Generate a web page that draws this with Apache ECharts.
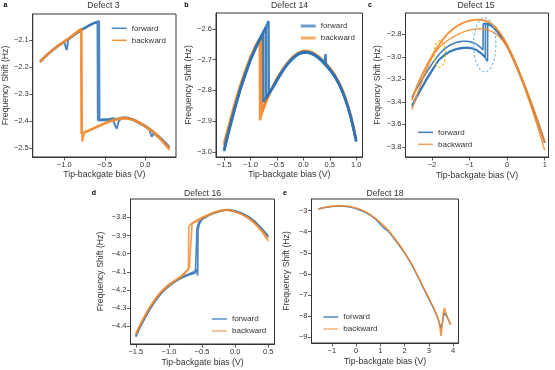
<!DOCTYPE html>
<html><head><meta charset="utf-8">
<script src="https://cdn.jsdelivr.net/npm/echarts@6/dist/echarts.min.js"></script>
<style>html,body{margin:0;padding:0;background:#fff}#c{width:555px;height:370px}</style>
</head><body><div id="c"></div>
<script>
// ---------- Panel a : Defect 3 ----------
const aTicksX = [-1.0, -0.5, 0.0];
const aTicksY = [-2.5, -2.4, -2.3, -2.2, -2.1];
const aFwd1 = [[-1.30,-2.183],[-1.25,-2.168],[-1.20,-2.153],[-1.15,-2.141],[-1.10,-2.129],[-1.05,-2.118],[-1.00,-2.108],[-0.98,-2.104],[-0.97,-2.138],[-0.96,-2.132],[-0.95,-2.099],[-0.90,-2.088],[-0.85,-2.077],[-0.80,-2.066],[-0.75,-2.057],[-0.70,-2.049],[-0.65,-2.041],[-0.62,-2.036],[-0.60,-2.034],[-0.59,-2.038],[-0.585,-2.397],[-0.55,-2.398],[-0.50,-2.396],[-0.45,-2.398],[-0.40,-2.394],[-0.37,-2.418],[-0.35,-2.428],[-0.33,-2.402],[-0.30,-2.391],[-0.25,-2.389],[-0.20,-2.391],[-0.15,-2.396],[-0.10,-2.404],[-0.05,-2.412],[0.00,-2.421],[0.05,-2.432],[0.08,-2.458],[0.10,-2.447],[0.15,-2.456],[0.20,-2.468],[0.25,-2.483],[0.30,-2.500]];
const aFwd2 = [[-1.30,-2.178],[-1.25,-2.165],[-1.20,-2.150],[-1.15,-2.137],[-1.10,-2.126],[-1.05,-2.115],[-1.00,-2.105],[-0.95,-2.096],[-0.90,-2.085],[-0.85,-2.074],[-0.80,-2.064],[-0.75,-2.055],[-0.70,-2.046],[-0.65,-2.039],[-0.60,-2.033],[-0.57,-2.030],[-0.565,-2.395],[-0.52,-2.393],[-0.45,-2.392],[-0.40,-2.390],[-0.35,-2.392],[-0.30,-2.388],[-0.25,-2.386],[-0.20,-2.389],[-0.15,-2.393],[-0.10,-2.401],[-0.05,-2.409],[0.00,-2.417],[0.05,-2.427],[0.10,-2.440],[0.15,-2.452],[0.20,-2.465],[0.25,-2.480],[0.30,-2.496]];
const aBwd1 = [[0.30,-2.507],[0.25,-2.490],[0.20,-2.472],[0.15,-2.457],[0.10,-2.443],[0.05,-2.431],[0.00,-2.421],[-0.05,-2.411],[-0.10,-2.403],[-0.15,-2.397],[-0.20,-2.393],[-0.25,-2.391],[-0.30,-2.392],[-0.35,-2.395],[-0.40,-2.399],[-0.45,-2.404],[-0.50,-2.410],[-0.55,-2.417],[-0.60,-2.423],[-0.65,-2.430],[-0.70,-2.437],[-0.75,-2.443],[-0.77,-2.447],[-0.78,-2.476],[-0.785,-2.060],[-0.80,-2.063],[-0.85,-2.074],[-0.90,-2.086],[-0.95,-2.097],[-1.00,-2.107],[-1.05,-2.117],[-1.10,-2.128],[-1.15,-2.140],[-1.20,-2.153],[-1.25,-2.167],[-1.30,-2.183]];
const aBwd2 = [[0.30,-2.500],[0.25,-2.485],[0.20,-2.468],[0.15,-2.452],[0.10,-2.439],[0.05,-2.428],[0.00,-2.418],[-0.05,-2.408],[-0.10,-2.400],[-0.15,-2.394],[-0.20,-2.390],[-0.25,-2.388],[-0.30,-2.389],[-0.35,-2.392],[-0.40,-2.396],[-0.45,-2.401],[-0.50,-2.407],[-0.55,-2.413],[-0.60,-2.420],[-0.65,-2.427],[-0.70,-2.434],[-0.75,-2.440],[-0.79,-2.446],[-0.795,-2.058],[-0.85,-2.071],[-0.90,-2.083],[-0.95,-2.094],[-1.00,-2.104],[-1.05,-2.114],[-1.10,-2.125],[-1.15,-2.137],[-1.20,-2.150],[-1.25,-2.164],[-1.30,-2.180]];

// ---------- Panel b : Defect 14 ----------
const bTicksX = [-1.5, -1.0, -0.5, 0.0, 0.5, 1.0];
const bTicksY = [-3.0, -2.9, -2.8, -2.7, -2.6];
const bFwd1 = [[-1.50,-2.995],[-1.45,-2.958],[-1.40,-2.925],[-1.35,-2.892],[-1.30,-2.860],[-1.25,-2.830],[-1.20,-2.800],[-1.15,-2.773],[-1.10,-2.748],[-1.05,-2.723],[-1.00,-2.700],[-0.95,-2.680],[-0.90,-2.661],[-0.85,-2.643],[-0.80,-2.627],[-0.76,-2.614],[-0.755,-2.838],[-0.72,-2.828],[-0.68,-2.816],[-0.64,-2.805],[-0.60,-2.795],[-0.55,-2.780],[-0.50,-2.765],[-0.45,-2.750],[-0.40,-2.737],[-0.35,-2.724],[-0.30,-2.713],[-0.25,-2.703],[-0.20,-2.694],[-0.15,-2.687],[-0.10,-2.681],[-0.05,-2.677],[0.00,-2.675],[0.05,-2.674],[0.10,-2.676],[0.15,-2.678],[0.20,-2.682],[0.25,-2.688],[0.30,-2.694],[0.35,-2.702],[0.40,-2.711],[0.42,-2.682],[0.43,-2.716],[0.45,-2.720],[0.50,-2.730],[0.55,-2.741],[0.60,-2.754],[0.65,-2.769],[0.70,-2.786],[0.75,-2.806],[0.80,-2.829],[0.85,-2.855],[0.90,-2.886],[0.95,-2.921],[1.00,-2.963]];
const bFwd2 = [[-1.50,-2.990],[-1.45,-2.954],[-1.40,-2.921],[-1.35,-2.889],[-1.30,-2.857],[-1.25,-2.827],[-1.20,-2.797],[-1.15,-2.770],[-1.10,-2.745],[-1.05,-2.721],[-1.00,-2.698],[-0.95,-2.678],[-0.90,-2.658],[-0.85,-2.640],[-0.80,-2.623],[-0.75,-2.607],[-0.70,-2.591],[-0.66,-2.574],[-0.655,-2.812],[-0.62,-2.803],[-0.58,-2.792],[-0.55,-2.784],[-0.50,-2.769],[-0.45,-2.754],[-0.40,-2.740],[-0.35,-2.727],[-0.30,-2.716],[-0.25,-2.706],[-0.20,-2.697],[-0.15,-2.690],[-0.10,-2.684],[-0.05,-2.680],[0.00,-2.678],[0.05,-2.677],[0.10,-2.678],[0.15,-2.681],[0.20,-2.685],[0.25,-2.690],[0.30,-2.697],[0.35,-2.705],[0.40,-2.714],[0.45,-2.724],[0.50,-2.734],[0.55,-2.745],[0.60,-2.758],[0.65,-2.773],[0.70,-2.790],[0.75,-2.810],[0.80,-2.833],[0.85,-2.859],[0.90,-2.890],[0.95,-2.925],[1.00,-2.967]];
const bFwd3 = [[-1.5,-2.998],[-1.4,-2.928],[-1.3,-2.862],[-1.2,-2.802],[-1.1,-2.750],[-1.0,-2.702],[-0.9,-2.662],[-0.8,-2.626],[-0.71,-2.594],[-0.705,-2.826],[-0.6,-2.797],[-0.5,-2.767],[-0.4,-2.738],[-0.3,-2.714],[-0.2,-2.695],[-0.1,-2.682],[0.0,-2.676],[0.1,-2.677],[0.2,-2.684],[0.3,-2.696],[0.4,-2.713],[0.5,-2.732],[0.6,-2.756],[0.7,-2.788],[0.8,-2.831],[0.9,-2.888],[1.0,-2.965]];
const bBwd1 = [[1.00,-2.960],[0.95,-2.918],[0.90,-2.883],[0.85,-2.852],[0.80,-2.826],[0.75,-2.803],[0.70,-2.783],[0.65,-2.766],[0.60,-2.751],[0.55,-2.738],[0.50,-2.727],[0.45,-2.717],[0.40,-2.708],[0.35,-2.699],[0.30,-2.691],[0.25,-2.685],[0.20,-2.679],[0.15,-2.675],[0.10,-2.673],[0.05,-2.671],[0.00,-2.672],[-0.05,-2.674],[-0.10,-2.678],[-0.15,-2.684],[-0.20,-2.691],[-0.25,-2.700],[-0.30,-2.710],[-0.35,-2.721],[-0.40,-2.734],[-0.45,-2.747],[-0.50,-2.762],[-0.55,-2.777],[-0.60,-2.794],[-0.65,-2.812],[-0.70,-2.832],[-0.75,-2.855],[-0.80,-2.882],[-0.82,-2.897],[-0.825,-2.632],[-0.85,-2.640],[-0.90,-2.656],[-0.95,-2.674],[-1.00,-2.694],[-1.05,-2.716],[-1.10,-2.740],[-1.15,-2.765],[-1.20,-2.791],[-1.25,-2.819],[-1.30,-2.848],[-1.35,-2.879],[-1.40,-2.911],[-1.45,-2.944],[-1.50,-2.978]];
const bBwd2 = [[1.0,-2.964],[0.9,-2.887],[0.8,-2.829],[0.7,-2.786],[0.6,-2.754],[0.5,-2.730],[0.4,-2.711],[0.3,-2.694],[0.2,-2.682],[0.1,-2.675],[0.0,-2.674],[-0.1,-2.680],[-0.2,-2.693],[-0.3,-2.712],[-0.4,-2.736],[-0.5,-2.764],[-0.6,-2.796],[-0.7,-2.834],[-0.78,-2.868],[-0.785,-2.619],[-0.8,-2.624],[-0.9,-2.653],[-1.0,-2.690],[-1.1,-2.736],[-1.2,-2.787],[-1.3,-2.844],[-1.4,-2.907],[-1.5,-2.972]];

// ---------- Panel c : Defect 15 ----------
const cTicksX = [-2, -1, 0, 1];
const cTicksY = [-3.8, -3.6, -3.4, -3.2, -3.0, -2.8];
const cFwd1 = [[-2.53,-3.36],[-2.4,-3.28],[-2.25,-3.195],[-2.1,-3.115],[-1.95,-3.04],[-1.8,-2.975],[-1.65,-2.925],[-1.5,-2.893],[-1.35,-2.872],[-1.2,-2.862],[-1.05,-2.862],[-0.9,-2.874],[-0.8,-2.892],[-0.7,-2.918],[-0.64,-2.94],[-0.635,-2.705],[-0.5,-2.705],[-0.4,-2.728],[-0.3,-2.76],[-0.2,-2.80],[-0.1,-2.85],[0.0,-2.905],[0.1,-2.97],[0.2,-3.045],[0.3,-3.122],[0.4,-3.205],[0.5,-3.29],[0.6,-3.378],[0.7,-3.468],[0.8,-3.563],[0.9,-3.66],[1.0,-3.758]];
const cFwd2 = [[-2.53,-3.445],[-2.4,-3.36],[-2.25,-3.27],[-2.1,-3.185],[-1.95,-3.105],[-1.83,-3.033],[-1.65,-2.985],[-1.5,-2.952],[-1.35,-2.935],[-1.2,-2.925],[-1.05,-2.922],[-0.9,-2.93],[-0.8,-2.945],[-0.7,-2.968],[-0.6,-3.0],[-0.52,-3.04],[-0.515,-2.71],[-0.4,-2.73],[-0.3,-2.762],[-0.2,-2.803],[-0.1,-2.853],[0.0,-2.908],[0.1,-2.973],[0.2,-3.048],[0.3,-3.125],[0.4,-3.208],[0.5,-3.293],[0.6,-3.381],[0.7,-3.471],[0.8,-3.566],[0.9,-3.663],[1.0,-3.762]];
const cFwd3 = [[-2.53,-3.43],[-2.4,-3.345],[-2.25,-3.255],[-2.1,-3.17],[-1.95,-3.093],[-1.8,-3.02],[-1.65,-2.975],[-1.5,-2.945],[-1.35,-2.928],[-1.2,-2.918],[-1.05,-2.916],[-0.9,-2.924],[-0.8,-2.94],[-0.7,-2.962],[-0.58,-3.0],[-0.575,-2.708],[-0.5,-2.708],[-0.4,-2.729],[-0.2,-2.802],[0.0,-2.906],[0.2,-3.046],[0.4,-3.206],[0.6,-3.38],[0.8,-3.565],[1.0,-3.76]];
const cBwd1 = [[1.0,-3.76],[0.9,-3.655],[0.8,-3.558],[0.7,-3.462],[0.6,-3.37],[0.5,-3.283],[0.4,-3.197],[0.3,-3.113],[0.2,-3.035],[0.1,-2.96],[0.0,-2.893],[-0.1,-2.833],[-0.2,-2.782],[-0.3,-2.74],[-0.4,-2.71],[-0.5,-2.69],[-0.6,-2.678],[-0.7,-2.672],[-0.8,-2.671],[-0.9,-2.673],[-1.0,-2.68],[-1.1,-2.69],[-1.2,-2.703],[-1.3,-2.72],[-1.4,-2.742],[-1.5,-2.77],[-1.6,-2.803],[-1.7,-2.843],[-1.8,-2.888],[-1.9,-2.94],[-2.0,-2.995],[-2.1,-3.055],[-2.2,-3.12],[-2.3,-3.19],[-2.4,-3.265],[-2.53,-3.385]];
const cBwd2 = [[1.0,-3.83],[0.9,-3.72],[0.8,-3.61],[0.7,-3.505],[0.6,-3.405],[0.5,-3.31],[0.4,-3.22],[0.3,-3.135],[0.2,-3.055],[0.1,-2.98],[0.0,-2.912],[-0.1,-2.862],[-0.2,-2.825],[-0.3,-2.797],[-0.4,-2.776],[-0.5,-2.762],[-0.6,-2.754],[-0.7,-2.751],[-0.8,-2.752],[-0.9,-2.756],[-1.0,-2.763],[-1.1,-2.772],[-1.2,-2.784],[-1.3,-2.8],[-1.4,-2.818],[-1.5,-2.838],[-1.6,-2.86],[-1.7,-2.885],[-1.8,-2.915],[-1.9,-2.955],[-2.0,-3.01],[-2.1,-3.08],[-2.2,-3.16],[-2.3,-3.25],[-2.4,-3.345],[-2.53,-3.47]];
// dashed ellipse annotations: [centre x, centre y, half-width, half-height]
const cEllipseYellow = [[-1.79, -2.975, 0.15, 0.118]];
const cEllipseBlue = [[-0.594, -2.893, 0.297, 0.241]];

// ---------- Panel d : Defect 16 ----------
const dTicksX = [-1.5, -1.0, -0.5, 0.0, 0.5];
const dTicksY = [-4.5, -4.4, -4.3, -4.2, -4.1, -4.0, -3.9, -3.8];
const dFwd1 = [[-1.50,-4.458],[-1.45,-4.415],[-1.40,-4.380],[-1.35,-4.348],[-1.30,-4.315],[-1.25,-4.285],[-1.20,-4.258],[-1.15,-4.234],[-1.10,-4.213],[-1.05,-4.195],[-1.00,-4.180],[-0.95,-4.166],[-0.90,-4.153],[-0.85,-4.142],[-0.80,-4.132],[-0.75,-4.124],[-0.70,-4.117],[-0.65,-4.111],[-0.60,-4.106],[-0.58,-4.100],[-0.575,-3.860],[-0.55,-3.828],[-0.50,-3.807],[-0.45,-3.795],[-0.40,-3.786],[-0.35,-3.778],[-0.30,-3.772],[-0.25,-3.767],[-0.20,-3.762],[-0.15,-3.760],[-0.10,-3.761],[-0.05,-3.764],[0.00,-3.768],[0.05,-3.774],[0.10,-3.780],[0.15,-3.788],[0.20,-3.798],[0.25,-3.811],[0.30,-3.827],[0.35,-3.845],[0.40,-3.864],[0.45,-3.885],[0.50,-3.908]];
const dFwd2 = [[-1.50,-4.452],[-1.40,-4.374],[-1.30,-4.310],[-1.20,-4.253],[-1.10,-4.208],[-1.00,-4.176],[-0.90,-4.149],[-0.80,-4.128],[-0.70,-4.112],[-0.62,-4.100],[-0.58,-4.088],[-0.565,-4.120],[-0.56,-3.870],[-0.54,-3.835],[-0.50,-3.812],[-0.40,-3.790],[-0.30,-3.775],[-0.20,-3.765],[-0.10,-3.757],[0.00,-3.764],[0.10,-3.776],[0.20,-3.795],[0.30,-3.822],[0.40,-3.860],[0.50,-3.902]];
const dBwd1 = [[0.50,-3.918],[0.45,-3.893],[0.40,-3.870],[0.35,-3.850],[0.30,-3.832],[0.25,-3.816],[0.20,-3.802],[0.15,-3.791],[0.10,-3.782],[0.05,-3.775],[0.00,-3.769],[-0.05,-3.765],[-0.10,-3.762],[-0.15,-3.762],[-0.20,-3.764],[-0.25,-3.768],[-0.30,-3.774],[-0.35,-3.780],[-0.40,-3.788],[-0.45,-3.797],[-0.50,-3.806],[-0.55,-3.816],[-0.60,-3.825],[-0.65,-3.834],[-0.68,-3.842],[-0.69,-4.075],[-0.72,-4.092],[-0.75,-4.105],[-0.80,-4.123],[-0.85,-4.137],[-0.90,-4.149],[-0.95,-4.161],[-1.00,-4.174],[-1.05,-4.189],[-1.10,-4.206],[-1.15,-4.226],[-1.20,-4.249],[-1.25,-4.275],[-1.30,-4.304],[-1.35,-4.336],[-1.40,-4.369],[-1.45,-4.405],[-1.50,-4.447]];
const dBwd2 = [[0.5,-3.930],[0.4,-3.876],[0.3,-3.836],[0.2,-3.805],[0.1,-3.784],[0.0,-3.770],[-0.1,-3.758],[-0.2,-3.760],[-0.3,-3.770],[-0.4,-3.784],[-0.5,-3.800],[-0.6,-3.820],[-0.66,-3.835],[-0.70,-3.850],[-0.705,-4.085],[-0.75,-4.100],[-0.8,-4.118],[-0.9,-4.144],[-1.0,-4.168],[-1.1,-4.200],[-1.2,-4.244],[-1.3,-4.300],[-1.4,-4.364],[-1.5,-4.440]];

// ---------- Panel e : Defect 18 ----------
const eTicksX = [-1, 0, 1, 2, 3, 4];
const eTicksY = [-9, -8, -7, -6, -5, -4, -3];
const eFwd = [[-1.55,-2.92],[-1.3,-2.85],[-1.0,-2.80],[-0.7,-2.78],[-0.4,-2.80],[-0.2,-2.84],[0.0,-2.90],[0.2,-2.99],[0.4,-3.09],[0.6,-3.23],[0.8,-3.41],[1.0,-3.64],[1.1,-3.76],[1.2,-3.88],[1.27,-3.97],[1.3,-3.95],[1.22,-3.85],[1.28,-3.90],[1.4,-4.08],[1.6,-4.38],[1.8,-4.69],[2.0,-5.02],[2.2,-5.38],[2.4,-5.80],[2.6,-6.27],[2.8,-6.74],[3.0,-7.20],[3.2,-7.66],[3.35,-8.05],[3.45,-8.40],[3.5,-8.60],[3.56,-8.30],[3.63,-7.85],[3.67,-7.80],[3.72,-8.00],[3.78,-8.12],[3.83,-8.20],[3.88,-8.38]];
const eBwd = [[3.9,-8.42],[3.83,-8.25],[3.76,-8.05],[3.7,-7.85],[3.64,-7.62],[3.6,-7.80],[3.55,-8.40],[3.5,-8.95],[3.45,-8.50],[3.4,-8.20],[3.3,-7.90],[3.2,-7.62],[3.0,-7.15],[2.8,-6.70],[2.6,-6.23],[2.4,-5.77],[2.2,-5.35],[2.0,-4.98],[1.8,-4.64],[1.6,-4.33],[1.4,-4.03],[1.2,-3.78],[1.0,-3.56],[0.8,-3.36],[0.6,-3.20],[0.4,-3.06],[0.2,-2.95],[0.0,-2.87],[-0.2,-2.81],[-0.4,-2.78],[-0.7,-2.765],[-1.0,-2.785],[-1.3,-2.845],[-1.55,-2.91]];

const titles = ['Defect 3', 'Defect 14', 'Defect 15', 'Defect 16', 'Defect 18'];
const letters = ['a', 'b', 'c', 'd', 'e'];
const xName = 'Tip-backgate bias (V)';
const yName = 'Frequency Shift (Hz)';

const FONT = '"Liberation Sans", Arial, sans-serif';
const TXT = '#333';
const BLUE = '#2f73b5', ORANGE = '#f5882a';

const layout = [
  {grid:{left:31, top:14, width:145, height:143}, x:[-1.39,0.38], y:[-2.533,-2.004], xt:aTicksX, yt:aTicksY, xd:1, yd:1, yGap:19.5, xGap:13.5,
   title:[103.5,6], letter:[5.5,5], legend:{left:111.7, top:22.8, h:1.5, fc:'#4a8bc6', bc:'#f39436'}},
  {grid:{left:216, top:13, width:146.5, height:144}, x:[-1.655,1.12], y:[-3.017,-2.548], xt:bTicksX, yt:bTicksY, xd:1, yd:1, yGap:21, xGap:13.5,
   title:[289.5,6], letter:[186.5,5], legend:{left:300.7, top:20.5, h:3, fc:'#6a9ccc', bc:'#f7ad66'}},
  {grid:{left:405.5, top:13, width:143, height:144}, x:[-2.70,1.10], y:[-3.889,-2.611], xt:cTicksX, yt:cTicksY, xd:0, yd:1, yGap:23, xGap:13.8,
   title:[476,6], letter:[370,5], legend:{left:418, top:126.8, h:1.5, fc:'#3f7fc0', bc:'#f5a05a'}},
  {grid:{left:130.5, top:199, width:144, height:145}, x:[-1.58,0.595], y:[-4.497,-3.699], xt:dTicksX, yt:dTicksY, xd:1, yd:1, yGap:25, xGap:14,
   title:[202.5,193.3], letter:[94,193.3], legend:{left:212, top:313.5, h:1.5, fc:'#5595cd', bc:'#f7b27a'}},
  {grid:{left:311.5, top:199, width:147, height:144}, x:[-1.84,4.22], y:[-9.284,-2.445], xt:eTicksX, yt:eTicksY, xd:0, yd:0, yGap:20.5, xGap:14,
   title:[385,193.3], letter:[285,193.3], legend:{left:323.3, top:311.5, h:1.5, fc:'#4a8bc6', bc:'#f7b27a'}}
];

function fmt(d) { return v => (Math.abs(v) < 1e-9 ? 0 : v).toFixed(d).replace('-', '\u2212'); }

const grids = [], xAxes = [], yAxes = [], legends = [], graphics = [];
layout.forEach((p, i) => {
  grids.push(Object.assign({show:true, borderColor:'#333', borderWidth:1, containLabel:false}, p.grid));
  const common = {
    type:'value', gridIndex:i, nameLocation:'middle', splitLine:{show:false},
    axisLine:{show:true, onZero:false, lineStyle:{color:'#333', width:1}},
    axisTick:{show:true, inside:false, length:3.5, lineStyle:{color:'#333', width:0.8}},
    nameTextStyle:{fontFamily:FONT, fontSize:8.7, color:TXT}
  };
  xAxes.push(Object.assign({}, common, {
    min:p.x[0], max:p.x[1], name:xName, nameGap:p.xGap,
    axisTick:Object.assign({}, common.axisTick, {customValues:p.xt}),
    axisLabel:{customValues:p.xt, formatter:fmt(p.xd), fontFamily:FONT, fontSize:7.5, color:TXT, margin:4}
  }));
  yAxes.push(Object.assign({}, common, {
    min:p.y[0], max:p.y[1], name:yName, nameGap:p.yGap, nameRotate:90,
    axisTick:Object.assign({}, common.axisTick, {customValues:p.yt}),
    axisLabel:{customValues:p.yt, formatter:fmt(p.yd), fontFamily:FONT, fontSize:7.5, color:TXT, margin:4}
  }));
  const L = p.legend;
  legends.push({
    orient:'vertical', left:L.left, top:L.top, padding:0, itemGap:1, itemWidth:15, itemHeight:L.h,
    icon:'rect', selectedMode:false,
    textStyle:{fontFamily:FONT, fontSize:8, color:TXT, lineHeight:11},
    data:[{name:'forward', itemStyle:{color:L.fc}}, {name:'backward', itemStyle:{color:L.bc}}]
  });
  graphics.push({type:'text', x:p.title[0], y:p.title[1], style:{text:titles[i], fill:TXT, font:'8.7px ' + FONT, align:'center', verticalAlign:'middle'}});
  graphics.push({type:'text', x:p.letter[0], y:p.letter[1], style:{text:letters[i], fill:'#000', font:'bold 7px ' + FONT, align:'center', verticalAlign:'middle'}});
});

function line(name, data, gi, color, w, op) {
  return {type:'line', name, data, xAxisIndex:gi, yAxisIndex:gi, symbol:'none', showSymbol:false,
    silent:true, animation:false, lineStyle:{color, width:w, opacity:op}, itemStyle:{color}, emphasis:{disabled:true}, z:2};
}
function ellipse(data, color) {
  return {type:'custom', data, xAxisIndex:2, yAxisIndex:2, silent:true, animation:false, z:5,
    renderItem:(params, api) => {
      const c = api.coord([api.value(0), api.value(1)]);
      const s = api.size([api.value(2), api.value(3)]);
      return {type:'ellipse', shape:{cx:c[0], cy:c[1], rx:s[0], ry:s[1]},
        style:{fill:'none', stroke:color, lineWidth:1.1, lineDash:[2.5,2]}};
    }};
}

const series = [
  line('forward', aFwd1, 0, BLUE, 2.0, 0.85), line('forward', aFwd2, 0, BLUE, 2.0, 0.85),
  line('backward', aBwd1, 0, ORANGE, 2.0, 0.85), line('backward', aBwd2, 0, ORANGE, 2.0, 0.85),
  line('backward', bBwd1, 1, ORANGE, 2.6, 0.9), line('backward', bBwd2, 1, ORANGE, 2.6, 0.9),
  line('forward', bFwd1, 1, BLUE, 2.4, 0.9), line('forward', bFwd2, 1, BLUE, 2.4, 0.9), line('forward', bFwd3, 1, BLUE, 2.4, 0.9),
  line('forward', cFwd1, 2, BLUE, 1.6, 0.9), line('forward', cFwd2, 2, BLUE, 1.6, 0.9), line('forward', cFwd3, 2, BLUE, 1.6, 0.9),
  line('backward', cBwd1, 2, ORANGE, 2.0, 0.9), line('backward', cBwd2, 2, ORANGE, 1.3, 0.9),
  line('forward', dFwd1, 3, BLUE, 1.7, 0.85), line('forward', dFwd2, 3, BLUE, 1.7, 0.85),
  line('backward', dBwd1, 3, ORANGE, 1.7, 0.8), line('backward', dBwd2, 3, ORANGE, 1.7, 0.8),
  line('forward', eFwd, 4, BLUE, 1.4, 0.9), line('backward', eBwd, 4, ORANGE, 1.5, 0.9),
  ellipse(cEllipseYellow, '#f0b400'), ellipse(cEllipseBlue, '#6cbbe8')
];

const chart = echarts.init(document.getElementById('c'), null, {renderer:'canvas'});
chart.setOption({
  animation:false, backgroundColor:'#fff',
  grid:grids, xAxis:xAxes, yAxis:yAxes, legend:legends, series, graphic:graphics
});
</script>
</body></html>
